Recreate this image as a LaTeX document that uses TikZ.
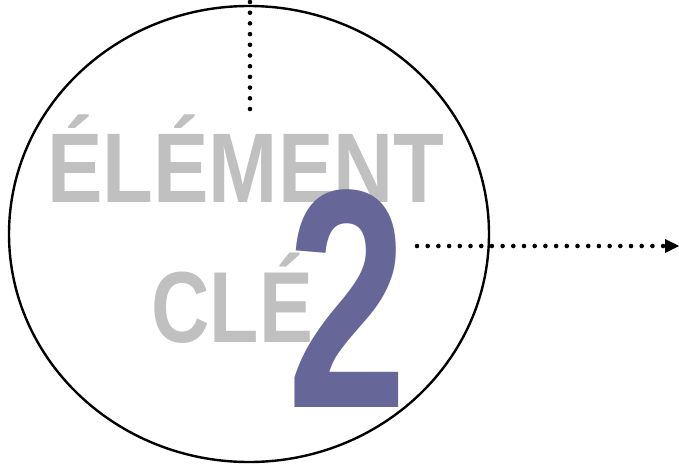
\documentclass[tikz,border=0pt]{standalone}
\usepackage{fontspec}
\setmainfont{Liberation Sans}
\usetikzlibrary{arrows.meta}
\definecolor{keygray}{RGB}{192,192,192}
\definecolor{keypurple}{RGB}{102,102,153}
\tikzset{
  dotline/.style={line width=4.6pt, line cap=round, dash pattern=on 0pt off 10.7pt},
  bigtext/.style={inner sep=0pt, outer sep=0pt, anchor=base west},
}
\begin{document}
\begin{tikzpicture}[x=1pt,y=-1pt]
\useasboundingbox (0,0) rectangle (679,466);
\draw[line width=2.4pt] (249,234) ellipse [x radius=240, y radius=228];
\node[bigtext, text=keygray, font=\fontsize{99}{99}\selectfont\bfseries] (elem) at (47,202) {\scalebox{0.84}[1]{ÉLÉMENT}};
\node[bigtext, text=keygray, font=\fontsize{101}{101}\selectfont\bfseries] (cle) at (151.5,342) {\scalebox{0.8}[1]{CLÉ}};
\node[bigtext, text=keypurple, font=\fontsize{312}{312}\selectfont\bfseries] (two) at (287,407) {\scalebox{0.69}[1]{2}};
\coordinate (vtop) at (250,2);
\coordinate (vbot) at (250,118);
\coordinate (hstart) at (417,246);
\coordinate (hend) at (679,246);
\draw[dotline] (vtop) -- (vbot);
\draw[dotline, -{Triangle[length=14pt,width=14pt,line width=0pt]}] (hstart) -- (hend);
\end{tikzpicture}
\end{document}
